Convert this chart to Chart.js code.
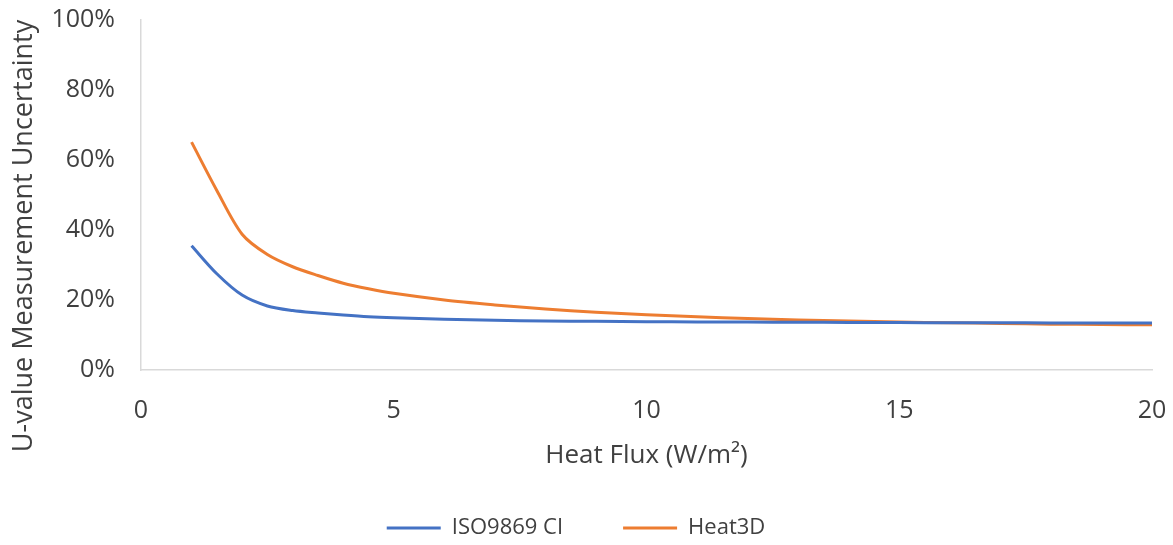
<!DOCTYPE html>
<html>
<head>
<meta charset="utf-8">
<title>U-value uncertainty vs heat flux</title>
<script src="https://cdn.jsdelivr.net/npm/chart.js@4.4.1/dist/chart.umd.min.js"></script>
<style>
    html, body { margin: 0; padding: 0; background: #ffffff; overflow: hidden; }
    #wrap { width: 1173px; height: 545px; position: relative; }
</style>
</head>
<body>
<div id="wrap"><canvas id="chart"></canvas></div>
<script>
// Heat flux values (W/m2)
const heatFlux = [1, 1.5, 2, 2.5, 3, 3.5, 4, 4.5, 5, 6, 7, 8, 9, 10, 11, 12, 13, 14, 15, 16, 17, 18, 19, 20];

// Uncertainty in percent
const isoValues = [35.5, 27.5, 21.4, 18.3, 17.0, 16.3, 15.7, 15.2, 14.9, 14.5, 14.2, 14.0, 13.9, 13.8, 13.75, 13.7, 13.65, 13.6, 13.55, 13.5, 13.5, 13.45, 13.4, 13.4];
const heat3dValues = [65.1, 51.3, 38.8, 33.0, 29.5, 27.0, 24.8, 23.2, 21.9, 20.0, 18.6, 17.4, 16.5, 15.8, 15.2, 14.7, 14.3, 14.0, 13.7, 13.5, 13.3, 13.1, 13.0, 12.9];

const xTicks = [0, 5, 10, 15, 20];
const yTicks = [0, 20, 40, 60, 80, 100];

const FONT = "'Open Sans', sans-serif";
const TEXT_COLOR = '#404040';
const AXIS_COLOR = '#d9d9d9';

function toPoints(xs, ys) {
    return xs.map((x, i) => ({ x: x, y: ys[i] }));
}

// Excel-style vertical axis title, centred a bit lower than the plot
const yTitlePlugin = {
    id: 'yTitle',
    afterDraw(chart) {
        const ctx = chart.ctx;
        ctx.save();
        ctx.translate(24, 236);
        ctx.rotate(-Math.PI / 2);
        ctx.font = "27px " + FONT;
        ctx.fillStyle = TEXT_COLOR;
        ctx.textAlign = 'center';
        ctx.textBaseline = 'middle';
        ctx.fillText('U-value Measurement Uncertainty', 0, 0);
        ctx.restore();
    }
};

new Chart(document.getElementById('chart').getContext('2d'), {
    type: 'line',
    data: {
        datasets: [{
            label: 'ISO9869 CI',
            data: toPoints(heatFlux, isoValues),
            borderColor: '#4472C4',
            backgroundColor: '#4472C4',
            borderWidth: 3,
            pointRadius: 0,
            tension: 0.3
        }, {
            label: 'Heat3D',
            data: toPoints(heatFlux, heat3dValues),
            borderColor: '#ED7D31',
            backgroundColor: '#ED7D31',
            borderWidth: 3,
            pointRadius: 0,
            tension: 0.3
        }]
    },
    options: {
        responsive: true,
        maintainAspectRatio: false,
        animation: false,
        layout: { padding: { left: 0, right: 21, top: 20, bottom: -4 } },
        plugins: {
            tooltip: { enabled: false },
            legend: {
                position: 'bottom',
                labels: {
                    font: { family: FONT, size: 22 },
                    color: TEXT_COLOR,
                    boxWidth: 54,
                    boxHeight: 0,
                    padding: 60
                }
            }
        },
        scales: {
            x: {
                type: 'linear',
                min: 0,
                max: 20,
                afterBuildTicks: scale => { scale.ticks = xTicks.map(v => ({ value: v })); },
                afterFit: scale => { scale.height = 87; },
                grid: { display: true, drawOnChartArea: false, drawTicks: true, tickLength: 26, color: 'transparent' },
                border: { display: true, color: AXIS_COLOR, width: 1.5 },
                ticks: {
                    font: { family: FONT, size: 25 },
                    color: TEXT_COLOR,
                    padding: 0,
                    maxRotation: 0
                },
                title: {
                    display: true,
                    text: 'Heat Flux (W/m²)',
                    font: { family: FONT, size: 26 },
                    color: TEXT_COLOR,
                    padding: { top: 0, bottom: -14.6 }
                }
            },
            y: {
                min: 0,
                max: 100,
                afterBuildTicks: scale => { scale.ticks = yTicks.map(v => ({ value: v })); },
                afterFit: scale => { scale.width = 141; },
                grid: { display: true, drawOnChartArea: false, drawTicks: true, tickLength: 26, color: 'transparent' },
                border: { display: true, color: AXIS_COLOR, width: 1.5 },
                ticks: {
                    font: { family: FONT, size: 25 },
                    color: TEXT_COLOR,
                    padding: 0,
                    callback: v => v + '%'
                }
            }
        }
    },
    plugins: [yTitlePlugin]
});
</script>
</body>
</html>
